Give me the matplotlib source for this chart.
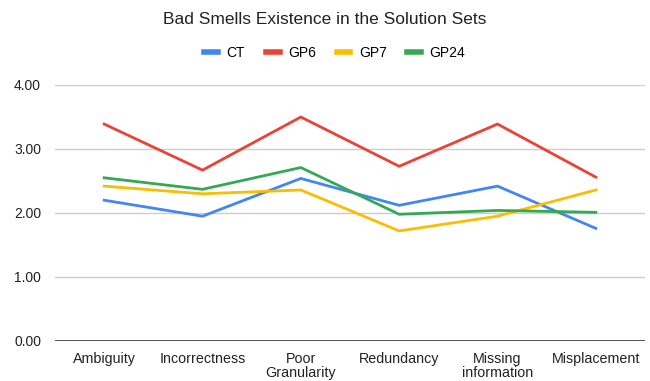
import matplotlib
matplotlib.use("Agg")
import matplotlib.pyplot as plt
from matplotlib.lines import Line2D

categories = ["Ambiguity", "Incorrectness", "Poor\nGranularity", "Redundancy", "Missing\ninformation", "Misplacement"]
series_names = ["CT", "GP6", "GP7", "GP24"]
ct = [2.20, 1.95, 2.54, 2.12, 2.42, 1.76]
gp6 = [3.39, 2.67, 3.50, 2.73, 3.39, 2.56]
gp7 = [2.42, 2.30, 2.36, 1.72, 1.95, 2.36]
gp24 = [2.55, 2.37, 2.71, 1.98, 2.04, 2.01]
yticks = [0, 1, 2, 3, 4]
colors = ["#4285F4", "#EA4335", "#FBBC04", "#34A853"]

plt.rcParams['font.family'] = ['Liberation Sans', 'DejaVu Sans']

fig = plt.figure(figsize=(6.5, 3.81), dpi=100)
ax = fig.add_axes([55/650, 1 - 341/381, 590/650, 256/381])

x = list(range(len(categories)))
for vals, c, name in zip([ct, gp6, gp7, gp24], colors, series_names):
    ax.plot(x, vals, color=c, lw=2, label=name, solid_joinstyle='miter', zorder=3)

ax.set_xlim(-0.5, len(categories) - 0.5)
ax.set_ylim(0, 4)
ax.set_yticks(yticks)
ax.set_yticklabels([f"{v:.2f}" for v in yticks], fontsize=10, color="#222222")
ax.set_xticks(x)
ax.set_xticklabels(categories, fontsize=10.3, color="#222222", linespacing=1.0)
ax.tick_params(length=0, pad=8)
ax.tick_params(axis='y', pad=10)
for s in ax.spines.values():
    s.set_visible(False)
ax.grid(axis='y', color="#cccccc", lw=1)
ax.set_axisbelow(True)
ax.axhline(0, color="#333333", lw=1.2, zorder=2)

fig.text(0.5, 1 - 20/381, "Bad Smells Existence in the Solution Sets", ha='center', va='center', fontsize=12.5, color="#222222")
handles = [Line2D([0], [0], color=c, lw=4) for c in colors]
fig.legend(handles, series_names, loc='center', bbox_to_anchor=(0.515, 1 - 53/381), ncol=4, frameon=False,
           fontsize=10, handlelength=1.0, columnspacing=1.5, handletextpad=0.6)

fig.savefig("out.png", dpi=100)
